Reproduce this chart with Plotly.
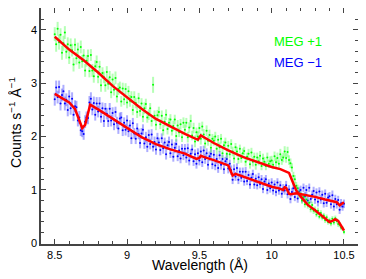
import plotly.graph_objects as go

# ---------------- data ----------------
wavelength = [
    8.50, 8.51, 8.52, 8.53, 8.54, 8.55, 8.56, 8.57, 8.58, 8.59,
    8.60, 8.61, 8.62, 8.63, 8.64, 8.65, 8.66, 8.67, 8.68, 8.69,
    8.70, 8.71, 8.72, 8.73, 8.74, 8.75, 8.76, 8.77, 8.78, 8.79,
    8.80, 8.81, 8.82, 8.83, 8.84, 8.85, 8.86, 8.87, 8.88, 8.89,
    8.90, 8.91, 8.92, 8.93, 8.94, 8.95, 8.96, 8.97, 8.98, 8.99,
    9.00, 9.01, 9.02, 9.03, 9.04, 9.05, 9.06, 9.07, 9.08, 9.09,
    9.10, 9.11, 9.12, 9.13, 9.14, 9.15, 9.16, 9.17, 9.18, 9.19,
    9.20, 9.21, 9.22, 9.23, 9.24, 9.25, 9.26, 9.27, 9.28, 9.29,
    9.30, 9.31, 9.32, 9.33, 9.34, 9.35, 9.36, 9.37, 9.38, 9.39,
    9.40, 9.41, 9.42, 9.43, 9.44, 9.45, 9.46, 9.47, 9.48, 9.49,
    9.50, 9.51, 9.52, 9.53, 9.54, 9.55, 9.56, 9.57, 9.58, 9.59,
    9.60, 9.61, 9.62, 9.63, 9.64, 9.65, 9.66, 9.67, 9.68, 9.69,
    9.70, 9.71, 9.72, 9.73, 9.74, 9.75, 9.76, 9.77, 9.78, 9.79,
    9.80, 9.81, 9.82, 9.83, 9.84, 9.85, 9.86, 9.87, 9.88, 9.89,
    9.90, 9.91, 9.92, 9.93, 9.94, 9.95, 9.96, 9.97, 9.98, 9.99,
    10.00, 10.01, 10.02, 10.03, 10.04, 10.05, 10.06, 10.07, 10.08, 10.09,
    10.10, 10.11, 10.12, 10.13, 10.14, 10.15, 10.16, 10.17, 10.18, 10.19,
    10.20, 10.21, 10.22, 10.23, 10.24, 10.25, 10.26, 10.27, 10.28, 10.29,
    10.30, 10.31, 10.32, 10.33, 10.34, 10.35, 10.36, 10.37, 10.38, 10.39,
    10.40, 10.41, 10.42, 10.43, 10.44, 10.45, 10.46, 10.47, 10.48, 10.49, 10.50,
]

meg_plus1 = [
    3.92, 3.73, 4.02, 3.77, 3.91, 3.57, 3.75, 3.95, 3.59, 3.73,
    3.48, 3.71, 3.62, 3.35, 3.72, 3.47, 3.63, 3.39, 3.68, 3.41,
    3.52, 3.24, 3.42, 3.51, 3.23, 3.53, 3.24, 3.13, 3.32, 3.40,
    3.12, 3.31, 2.96, 3.19, 3.11, 2.96, 3.21, 2.99, 3.11, 2.83,
    3.07, 2.88, 3.10, 2.75, 2.89, 2.92, 2.66, 2.90, 2.70, 2.89,
    2.64, 2.85, 2.67, 2.74, 2.50, 2.74, 2.63, 2.46, 2.72, 2.48,
    2.62, 2.37, 2.53, 2.61, 2.36, 2.41, 2.53, 2.29, 2.97, 2.39,
    2.22, 2.40, 2.46, 2.23, 2.39, 2.12, 2.28, 2.41, 2.14, 2.26,
    2.32, 2.11, 2.20, 2.32, 2.01, 2.21, 2.08, 2.23, 1.99, 2.26,
    2.13, 2.26, 1.99, 2.17, 2.29, 2.02, 2.16, 1.91, 2.08, 2.00,
    2.16, 1.96, 2.19, 2.04, 1.87, 2.11, 1.92, 2.03, 1.79, 1.96,
    1.92, 2.00, 1.77, 1.94, 1.80, 1.96, 1.69, 1.84, 1.89, 1.68,
    1.83, 1.67, 1.86, 1.72, 1.59, 1.80, 1.72, 1.58, 1.77, 1.60,
    1.69, 1.73, 1.53, 1.62, 1.68, 1.48, 1.70, 1.53, 1.62, 1.47,
    1.61, 1.54, 1.64, 1.45, 1.59, 1.53, 1.45, 1.61, 1.49, 1.54,
    1.55, 1.47, 1.63, 1.52, 1.60, 1.49, 1.67, 1.56, 1.61, 1.72,
    1.60, 1.71, 1.56, 1.50, 1.42, 1.26, 1.20, 1.08, 1.03, 0.92,
    0.90, 0.80, 0.87, 0.73, 0.82, 0.71, 0.76, 0.64, 0.72, 0.61,
    0.63, 0.54, 0.61, 0.50, 0.57, 0.48, 0.52, 0.43, 0.49, 0.40,
    0.43, 0.37, 0.46, 0.39, 0.47, 0.42, 0.36, 0.35, 0.29, 0.28, 0.21,
]

meg_plus1_err = [
    0.13, 0.14, 0.13, 0.14, 0.12, 0.13, 0.14, 0.12, 0.13, 0.13,
    0.12, 0.13, 0.12, 0.13, 0.12, 0.12, 0.13, 0.12, 0.12, 0.12,
    0.12, 0.12, 0.11, 0.12, 0.12, 0.11, 0.12, 0.12, 0.11, 0.12,
    0.12, 0.11, 0.12, 0.11, 0.11, 0.12, 0.11, 0.11, 0.12, 0.11,
    0.11, 0.11, 0.12, 0.11, 0.11, 0.11, 0.10, 0.11, 0.11, 0.11,
    0.11, 0.10, 0.11, 0.11, 0.10, 0.11, 0.10, 0.11, 0.10, 0.10,
    0.10, 0.10, 0.11, 0.10, 0.10, 0.10, 0.10, 0.10, 0.15, 0.10,
    0.10, 0.10, 0.10, 0.09, 0.10, 0.10, 0.09, 0.10, 0.10, 0.09,
    0.10, 0.09, 0.10, 0.09, 0.10, 0.10, 0.09, 0.10, 0.09, 0.10,
    0.10, 0.09, 0.10, 0.10, 0.12, 0.09, 0.10, 0.11, 0.09, 0.10,
    0.10, 0.11, 0.09, 0.10, 0.09, 0.10, 0.09, 0.10, 0.09, 0.09,
    0.09, 0.09, 0.10, 0.09, 0.09, 0.09, 0.09, 0.08, 0.09, 0.09,
    0.09, 0.08, 0.09, 0.09, 0.09, 0.08, 0.09, 0.09, 0.08, 0.09,
    0.09, 0.08, 0.09, 0.08, 0.09, 0.08, 0.09, 0.09, 0.08, 0.09,
    0.09, 0.08, 0.09, 0.08, 0.09, 0.09, 0.08, 0.09, 0.08, 0.09,
    0.09, 0.08, 0.09, 0.09, 0.10, 0.08, 0.10, 0.09, 0.09, 0.10,
    0.09, 0.10, 0.09, 0.09, 0.08, 0.08, 0.08, 0.07, 0.07, 0.07,
    0.07, 0.06, 0.07, 0.06, 0.06, 0.06, 0.06, 0.06, 0.06, 0.06,
    0.06, 0.05, 0.06, 0.05, 0.05, 0.05, 0.05, 0.05, 0.05, 0.05,
    0.05, 0.05, 0.05, 0.05, 0.05, 0.05, 0.05, 0.05, 0.04, 0.04, 0.04,
]

meg_minus1 = [
    2.70, 2.92, 2.74, 2.93, 2.62, 2.78, 2.85, 2.62, 2.69, 2.50,
    2.75, 2.53, 2.71, 2.41, 2.57, 2.55, 2.30, 2.36, 2.12, 2.10,
    2.05, 2.28, 2.36, 2.35, 2.64, 2.71, 2.51, 2.63, 2.41, 2.62,
    2.47, 2.62, 2.37, 2.53, 2.29, 2.52, 2.43, 2.29, 2.52, 2.30,
    2.44, 2.23, 2.46, 2.26, 2.15, 2.34, 2.36, 2.12, 2.26, 2.13,
    2.30, 2.10, 2.21, 1.97, 2.25, 2.06, 1.96, 2.15, 2.05, 1.88,
    2.06, 2.13, 1.87, 1.99, 1.81, 2.03, 1.86, 2.04, 1.81, 1.90,
    1.76, 1.97, 1.89, 1.75, 1.97, 1.78, 1.89, 1.67, 1.84, 1.90,
    1.69, 1.85, 1.62, 1.79, 1.86, 1.63, 1.74, 1.59, 1.77, 1.65,
    1.77, 1.61, 1.78, 1.55, 1.68, 1.76, 1.54, 1.67, 1.49, 1.69,
    1.55, 1.72, 1.52, 1.74, 1.58, 1.69, 1.47, 1.63, 1.68, 1.48,
    1.66, 1.46, 1.58, 1.41, 1.65, 1.47, 1.58, 1.39, 1.54, 1.58,
    1.40, 1.49, 1.37, 1.19, 1.39, 1.25, 1.41, 1.19, 1.34, 1.23,
    1.34, 1.16, 1.34, 1.17, 1.28, 1.10, 1.23, 1.30, 1.10, 1.21,
    1.09, 1.24, 1.11, 1.20, 1.02, 1.16, 1.20, 1.00, 1.12, 1.03,
    1.14, 0.99, 1.10, 0.96, 1.14, 0.99, 1.09, 0.93, 1.03, 0.99,
    1.09, 0.92, 1.01, 0.83, 0.96, 1.03, 0.87, 1.00, 0.84, 0.97,
    1.00, 0.84, 1.04, 0.88, 1.00, 0.80, 1.04, 0.83, 0.91, 0.98,
    0.82, 0.95, 0.78, 0.97, 0.82, 0.91, 0.75, 0.93, 0.76, 0.86,
    0.88, 0.73, 0.90, 0.69, 0.83, 0.73, 0.81, 0.63, 0.75, 0.69, 0.74,
]

meg_minus1_err = [
    0.12, 0.13, 0.12, 0.12, 0.13, 0.12, 0.12, 0.13, 0.12, 0.12,
    0.12, 0.12, 0.12, 0.12, 0.11, 0.12, 0.11, 0.12, 0.11, 0.11,
    0.11, 0.12, 0.11, 0.12, 0.12, 0.12, 0.11, 0.12, 0.11, 0.12,
    0.11, 0.12, 0.11, 0.11, 0.11, 0.11, 0.11, 0.11, 0.11, 0.11,
    0.11, 0.11, 0.10, 0.11, 0.10, 0.11, 0.10, 0.11, 0.10, 0.11,
    0.10, 0.11, 0.10, 0.11, 0.10, 0.10, 0.10, 0.10, 0.10, 0.10,
    0.10, 0.10, 0.10, 0.10, 0.10, 0.10, 0.10, 0.10, 0.09, 0.10,
    0.10, 0.10, 0.09, 0.10, 0.09, 0.10, 0.09, 0.10, 0.09, 0.10,
    0.09, 0.10, 0.09, 0.10, 0.09, 0.09, 0.09, 0.09, 0.09, 0.09,
    0.09, 0.10, 0.09, 0.09, 0.09, 0.09, 0.09, 0.09, 0.09, 0.09,
    0.09, 0.10, 0.09, 0.09, 0.09, 0.09, 0.09, 0.09, 0.09, 0.09,
    0.09, 0.09, 0.09, 0.09, 0.08, 0.09, 0.08, 0.09, 0.08, 0.09,
    0.09, 0.08, 0.09, 0.08, 0.09, 0.08, 0.09, 0.08, 0.08, 0.08,
    0.08, 0.08, 0.09, 0.08, 0.08, 0.08, 0.08, 0.08, 0.08, 0.08,
    0.08, 0.08, 0.08, 0.08, 0.08, 0.08, 0.08, 0.08, 0.08, 0.08,
    0.08, 0.08, 0.08, 0.08, 0.08, 0.08, 0.08, 0.08, 0.08, 0.08,
    0.08, 0.08, 0.08, 0.08, 0.08, 0.08, 0.08, 0.08, 0.08, 0.08,
    0.08, 0.08, 0.08, 0.08, 0.09, 0.08, 0.08, 0.08, 0.08, 0.08,
    0.08, 0.08, 0.09, 0.08, 0.08, 0.08, 0.08, 0.08, 0.08, 0.08,
    0.08, 0.08, 0.09, 0.08, 0.08, 0.08, 0.08, 0.08, 0.08, 0.08, 0.08,
]

model_plus1_x = [8.50, 8.60, 8.70, 8.80, 8.90, 9.00, 9.10, 9.20, 9.30, 9.40,
                 9.49, 9.50, 9.51, 9.60, 9.70, 9.80, 9.90, 10.00, 10.06, 10.10,
                 10.12, 10.15, 10.17, 10.20, 10.25, 10.30, 10.34, 10.38, 10.40,
                 10.42, 10.44, 10.46, 10.48, 10.50]
model_plus1_y = [3.87, 3.63, 3.43, 3.20, 2.95, 2.73, 2.52, 2.33, 2.19, 2.05,
                 1.94, 1.98, 2.02, 1.88, 1.74, 1.62, 1.52, 1.43, 1.39, 1.35,
                 1.32, 1.12, 0.99, 0.88, 0.72, 0.62, 0.53, 0.43, 0.40,
                 0.42, 0.45, 0.42, 0.33, 0.24]

model_minus1_x = [8.50, 8.55, 8.60, 8.64, 8.67, 8.69, 8.71, 8.73, 8.745, 8.80,
                  8.90, 9.00, 9.10, 9.20, 9.30, 9.40, 9.48, 9.50, 9.51, 9.55,
                  9.60, 9.70, 9.71, 9.73, 9.75, 9.80, 9.90, 10.00, 10.05, 10.08,
                  10.09, 10.10, 10.12, 10.13, 10.17, 10.25, 10.30, 10.37, 10.45,
                  10.47, 10.50]
model_minus1_y = [2.80, 2.72, 2.64, 2.52, 2.32, 2.16, 2.22, 2.45, 2.60, 2.51,
                  2.34, 2.17, 1.99, 1.86, 1.76, 1.68, 1.58, 1.60, 1.64, 1.60,
                  1.56, 1.46, 1.40, 1.27, 1.30, 1.25, 1.15, 1.06, 1.03, 1.00,
                  1.05, 1.04, 0.93, 0.92, 0.94, 0.90, 0.87, 0.82, 0.77,
                  0.71, 0.77]

x_tickvals = [8.5, 9.0, 9.5, 10.0, 10.5]
x_ticktext = ["8.5", "9", "9.5", "10", "10.5"]
y_tickvals = [0, 1, 2, 3, 4]
y_ticktext = ["0", "1", "2", "3", "4"]

series_labels = ["MEG +1", "MEG \u22121"]
x_label = "Wavelength (\u00c5)"
y_label = "Counts s<sup>\u22121</sup> \u00c5<sup>\u22121</sup>"

GREEN = "#00ff00"
BLUE = "#0000ff"
RED = "#ff0000"
FONT = "Liberation Sans, Arial, sans-serif"

fig = go.Figure()

fig.add_trace(go.Scatter(
    x=wavelength, y=meg_minus1, mode="markers",
    marker=dict(color=BLUE, size=2),
    error_y=dict(type="data", array=meg_minus1_err, color="rgba(50,50,255,0.4)",
                 thickness=2, width=0),
    showlegend=False, hoverinfo="skip"))

fig.add_trace(go.Scatter(
    x=wavelength, y=meg_plus1, mode="markers",
    marker=dict(color=GREEN, size=2),
    error_y=dict(type="data", array=meg_plus1_err, color="rgba(70,255,70,0.4)",
                 thickness=2, width=0),
    showlegend=False, hoverinfo="skip"))

fig.add_trace(go.Scatter(
    x=model_minus1_x, y=model_minus1_y, mode="lines",
    line=dict(color=RED, width=2.5), showlegend=False, hoverinfo="skip"))
fig.add_trace(go.Scatter(
    x=model_plus1_x, y=model_plus1_y, mode="lines",
    line=dict(color=RED, width=2.5), showlegend=False, hoverinfo="skip"))

axis_common = dict(
    showline=True, linecolor="#444444", linewidth=1.5, mirror="allticks",
    ticks="inside", ticklen=5, tickcolor="#444444", tickwidth=1,
    showgrid=False, zeroline=False, automargin=False,
    tickfont=dict(family=FONT, size=11, color="black"),
)

fig.update_xaxes(
    range=[8.405, 10.597], tickmode="array", tickvals=x_tickvals, ticktext=x_ticktext,
    minor=dict(dtick=0.1, tick0=8.5, ticks="inside", ticklen=3, tickcolor="#444444"),
    **axis_common)
fig.update_yaxes(
    range=[-0.013, 4.41], tickmode="array", tickvals=y_tickvals, ticktext=y_ticktext,
    minor=dict(dtick=0.2, tick0=0, ticks="inside", ticklen=3, tickcolor="#444444"),
    **axis_common)

# axis titles
fig.add_annotation(x=0.502, y=0, xref="paper", yref="paper", yshift=-21,
                   xanchor="center", yanchor="middle", text=x_label, showarrow=False,
                   font=dict(family=FONT, size=14, color="black"))
fig.add_annotation(x=0, y=0.513, xref="paper", yref="paper", xshift=-26,
                   xanchor="center", yanchor="middle", textangle=-90, text=y_label,
                   showarrow=False, font=dict(family=FONT, size=14, color="black"))

# series labels
fig.add_annotation(x=0.729, y=0.856, xref="paper", yref="paper", xanchor="left",
                   yanchor="middle", text=series_labels[0], showarrow=False,
                   font=dict(family=FONT, size=13, color=GREEN))
fig.add_annotation(x=0.729, y=0.767, xref="paper", yref="paper", xanchor="left",
                   yanchor="middle", text=series_labels[1], showarrow=False,
                   font=dict(family=FONT, size=13, color=BLUE))

# the page body adds an 8 px offset; size the figure to fit the 366x279 window
fig.update_layout(
    width=358, height=271,
    margin=dict(l=33, r=8, t=0, b=35),
    paper_bgcolor="white", plot_bgcolor="white",
    font=dict(family=FONT, color="black"),
)

fig.write_html("out.html")
